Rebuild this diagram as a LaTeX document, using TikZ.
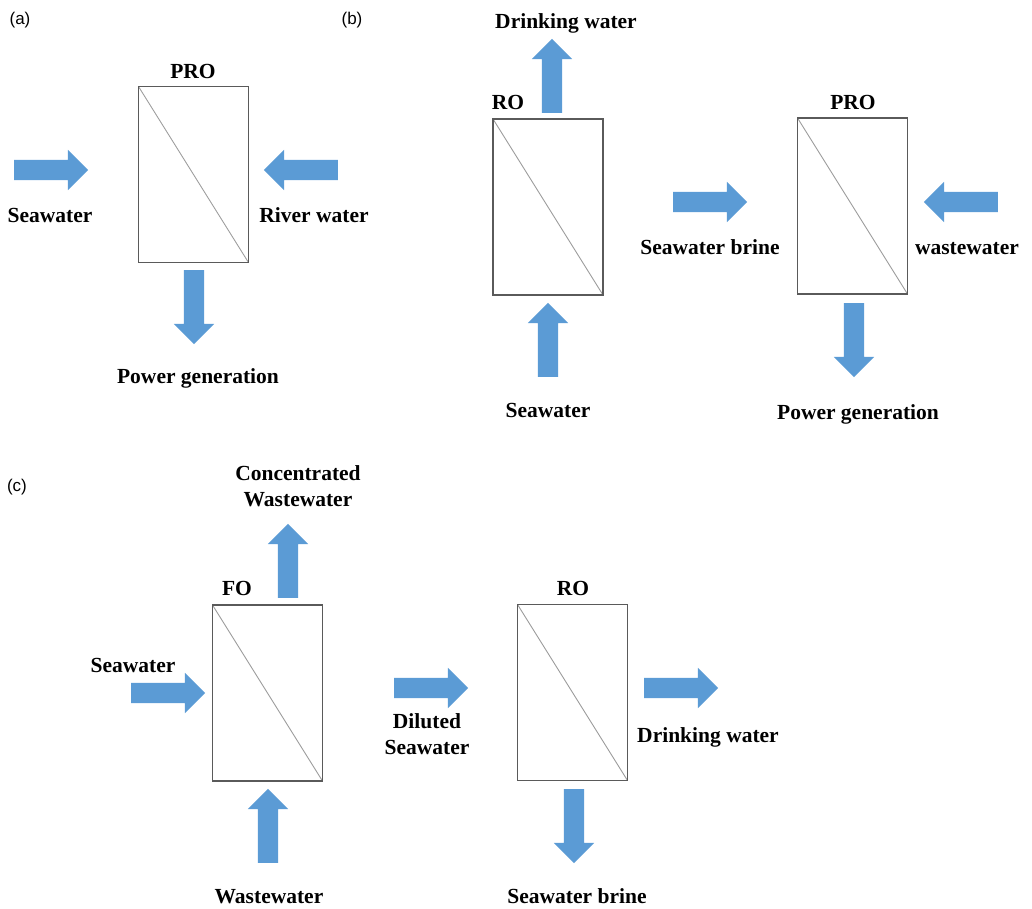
\documentclass[tikz,border=0pt]{standalone}
\usepackage{fontspec}
\setmainfont{Liberation Serif}
\setsansfont{Liberation Sans}
\usetikzlibrary{shapes.arrows,positioning}
\definecolor{flowblue}{HTML}{5B9BD5}
\definecolor{framegray}{HTML}{5A5A5A}
\definecolor{membranegray}{HTML}{9C9C9C}

\begin{document}
\begin{tikzpicture}[
  x=1pt, y=-1pt,
  module/.style={
    rectangle,
    draw=framegray,
    line width=1.5pt,
    minimum width=110pt,
    minimum height=176pt,
    inner sep=0pt,
    path picture={
      \draw[membranegray, line width=0.9pt]
        (path picture bounding box.north west) -- (path picture bounding box.south east);
    }
  },
  flow/.style={
    single arrow,
    fill=flowblue,
    draw=none,
    inner sep=10pt,
    minimum height=74pt,
    single arrow head extend=10pt,
    single arrow tip angle=90
  },
  flowright/.style={flow, shape border rotate=0},
  flowleft/.style={flow, shape border rotate=180},
  flowup/.style={flow, shape border rotate=90},
  flowdown/.style={flow, shape border rotate=270},
  stream/.style={
    font=\bfseries\fontsize{21.5}{26}\selectfont,
    align=center,
    inner sep=0pt,
    text height=15pt,
    text depth=5pt
  },
  panel/.style={font=\sffamily\fontsize{17}{19}\selectfont, inner sep=0pt}
]
\useasboundingbox (0,0) rectangle (1032,908);

% Panel (a): PRO
\node[panel] (tagA) at (20,20) {(a)};
\node[module] (proA) at (193.5,174.5) {};
\node[stream] (proAtitle) at (193,73) {PRO};
\node[flowright] (seaA) at (46,170) {};
\node[flowleft] (riverA) at (306,170) {};
\node[flowdown] (powerA) at (194,302) {};
\node[stream] (seaAtext) at (50,217) {Seawater};
\node[stream] (riverAtext) at (314,217) {River water};
\node[stream] (powerAtext) at (198,378) {Power generation};

% Panel (b): RO followed by PRO
\node[panel] (tagB) at (352,20) {(b)};
\node[module] (roB) at (548,207) {};
\node[module] (proB) at (852.5,206) {};
\node[stream] (roBtitle) at (508,104) {RO};
\node[stream] (proBtitle) at (853,104) {PRO};
\node[flowup] (drinkB) at (552,81) {};
\node[flowup] (seaB) at (548,345) {};
\node[flowright] (brineB) at (705,202) {};
\node[flowleft] (wasteB) at (966,202) {};
\node[flowdown] (powerB) at (854,335) {};
\node[stream] (drinkBtext) at (566,23) {Drinking water};
\node[stream] (seaBtext) at (548,412) {Seawater};
\node[stream] (brineBtext) at (710,249) {Seawater brine};
\node[stream] (wasteBtext) at (967,249) {wastewater};
\node[stream] (powerBtext) at (858,414) {Power generation};

% Panel (c): FO followed by RO
\node[panel] (tagC) at (17,487) {(c)};
\node[module] (foC) at (267.5,693) {};
\node[module] (roC) at (572.5,692.5) {};
\node[stream] (foCtitle) at (237,590) {FO};
\node[stream] (roCtitle) at (573,590) {RO};
\node[flowup] (concC) at (288,566) {};
\node[flowright] (seaC) at (163,693) {};
\node[flowup] (wasteC) at (268,831) {};
\node[flowright] (diluteC) at (426,688) {};
\node[flowright] (drinkC) at (676,688) {};
\node[flowdown] (brineC) at (574,821) {};
\node[stream] (concCtext) at (298,501) {Concentrated\\Wastewater};
\node[stream] (seaCtext) at (133,667) {Seawater};
\node[stream] (wasteCtext) at (269,898) {Wastewater};
\node[stream] (diluteCtext) at (427,749) {Diluted\\Seawater};
\node[stream] (drinkCtext) at (708,737) {Drinking water};
\node[stream] (brineCtext) at (577,898) {Seawater brine};

\end{tikzpicture}
\end{document}
